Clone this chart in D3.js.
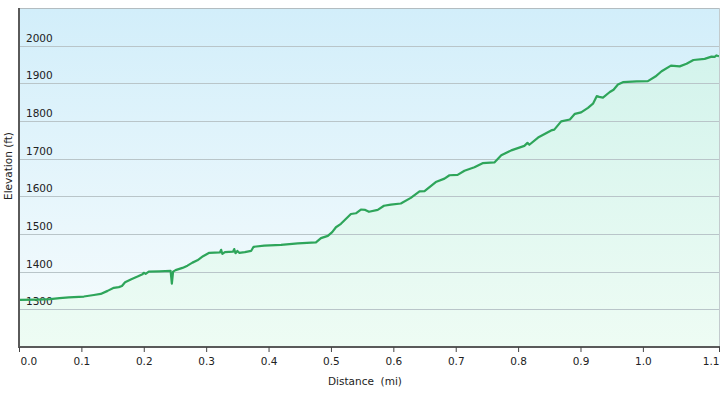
<!DOCTYPE html>
<html>
<head>
<meta charset="UTF-8">
<title>Elevation profile</title>
<script src="https://d3js.org/d3.v7.min.js"></script>
<style>
  body { margin: 0; background: #fff; }
  text { font-family: "DejaVu Sans", Verdana, sans-serif; fill: #222; }
</style>
</head>
<body>
<svg id="chart" width="724" height="395"></svg>
<script>
// distance (mi) / elevation (ft) read from the profile
const distances = [
  0.000, 0.030, 0.050, 0.065, 0.080, 0.104, 0.120, 0.131, 0.142, 0.152,
  0.160, 0.165, 0.170, 0.180, 0.190, 0.198, 0.200, 0.203, 0.208, 0.225,
  0.243, 0.245, 0.247, 0.251, 0.262, 0.270, 0.278, 0.286, 0.295, 0.305,
  0.322, 0.324, 0.326, 0.330, 0.343, 0.345, 0.347, 0.350, 0.353, 0.362,
  0.372, 0.376, 0.393, 0.420, 0.447, 0.476, 0.484, 0.495, 0.502, 0.508,
  0.516, 0.532, 0.540, 0.548, 0.555, 0.561, 0.575, 0.585, 0.596, 0.612,
  0.628, 0.642, 0.650, 0.668, 0.682, 0.690, 0.703, 0.714, 0.730, 0.743,
  0.762, 0.773, 0.789, 0.810, 0.815, 0.818, 0.832, 0.853, 0.858, 0.869,
  0.883, 0.891, 0.901, 0.912, 0.920, 0.926, 0.930, 0.936, 0.947, 0.953,
  0.960, 0.968, 0.990, 1.008, 1.020, 1.030, 1.045, 1.059, 1.070, 1.081,
  1.099, 1.110, 1.115, 1.118, 1.122
];
const elevations = [
  1325, 1326, 1327, 1330, 1332, 1334, 1338, 1341, 1349, 1357,
  1359, 1362, 1372, 1380, 1387, 1393, 1397, 1394, 1400, 1401,
  1402, 1368, 1400, 1404, 1410, 1416, 1424, 1430, 1441, 1450,
  1451, 1458, 1447, 1452, 1453, 1460, 1449, 1455, 1450, 1452,
  1455, 1466, 1469, 1471, 1475, 1478, 1489, 1495, 1505, 1518,
  1527, 1553, 1555, 1565, 1564, 1559, 1564, 1575, 1578, 1581,
  1596, 1613, 1614, 1638, 1647, 1656, 1657, 1668, 1677, 1688,
  1690, 1709, 1722, 1734, 1742, 1737, 1756, 1775, 1777, 1799,
  1804, 1819, 1823, 1835, 1846, 1866, 1864, 1862, 1877, 1883,
  1897, 1903, 1905, 1906, 1918, 1932, 1947, 1945, 1952, 1962,
  1965, 1971, 1970, 1974, 1972
];

const yTicks = [1300, 1400, 1500, 1600, 1700, 1800, 1900, 2000];
const xTicks = [0, 0.1, 0.2, 0.3, 0.4, 0.5, 0.6, 0.7, 0.8, 0.9, 1.0, 1.122];
const xTickLabels = ["0.0", "0.1", "0.2", "0.3", "0.4", "0.5", "0.6", "0.7", "0.8", "0.9", "1.0", "1.1"];

const svg = d3.select("#chart");
const pLeft = 19, pRight = 719, pTop = 8, pBottom = 347;

const x = d3.scaleLinear().domain([0, 1.122]).range([pLeft, pRight]);
const y = d3.scaleLinear().domain([1200, 2100]).range([pBottom, pTop]);

const data = distances.map((d, i) => ({ d: d, e: elevations[i] }));

// gradients
const defs = svg.append("defs");
const bg = defs.append("linearGradient").attr("id", "bg")
  .attr("x1", 0).attr("y1", 0).attr("x2", 0).attr("y2", 1);
bg.append("stop").attr("offset", "0%").attr("stop-color", "#d2eefa");
bg.append("stop").attr("offset", "100%").attr("stop-color", "#f7fcfd");

const ar = defs.append("linearGradient").attr("id", "ar")
  .attr("gradientUnits", "userSpaceOnUse")
  .attr("x1", 0).attr("y1", pTop).attr("x2", 0).attr("y2", pBottom);
ar.append("stop").attr("offset", "0%").attr("stop-color", "#cff2eb");
ar.append("stop").attr("offset", "100%").attr("stop-color", "#eefcf4");

// plot background
svg.append("rect")
  .attr("x", pLeft).attr("y", pTop)
  .attr("width", pRight - pLeft).attr("height", pBottom - pTop)
  .attr("fill", "url(#bg)");

// area under the profile
svg.append("path")
  .datum(data)
  .attr("fill", "url(#ar)")
  .attr("d", d3.area().x(p => x(p.d)).y0(pBottom).y1(p => y(p.e)));

// grid lines
svg.append("g").selectAll("line")
  .data(yTicks)
  .join("line")
  .attr("x1", pLeft).attr("x2", pRight)
  .attr("y1", d => Math.round(y(d)) + 0.5).attr("y2", d => Math.round(y(d)) + 0.5)
  .attr("stroke", "#b9c5c9").attr("stroke-width", 1);

// y labels sit above their grid lines
svg.append("g").selectAll("text")
  .data(yTicks)
  .join("text")
  .attr("x", 26)
  .attr("y", d => Math.round(y(d)) - 4)
  .attr("font-size", "10.5px")
  .text(d => d);

// profile line
svg.append("path")
  .datum(data)
  .attr("fill", "none")
  .attr("stroke", "#2ea55a")
  .attr("stroke-width", 2.2)
  .attr("stroke-linejoin", "round")
  .attr("d", d3.line().x(p => x(p.d)).y(p => y(p.e)));

// frame: top and right light, left and bottom dark
svg.append("line").attr("x1", pLeft).attr("x2", pRight + 0.5).attr("y1", pTop + 0.5).attr("y2", pTop + 0.5)
  .attr("stroke", "#b3bcc0");
svg.append("line").attr("x1", pRight + 0.5).attr("x2", pRight + 0.5).attr("y1", pTop).attr("y2", pBottom)
  .attr("stroke", "#c3cbce");
svg.append("line").attr("x1", pLeft).attr("x2", pLeft).attr("y1", pTop).attr("y2", pBottom + 1)
  .attr("stroke", "#5a5a5a").attr("stroke-width", 2);

// x axis
const xAxis = d3.axisBottom(x)
  .tickValues(xTicks)
  .tickFormat((d, i) => xTickLabels[i])
  .tickSize(5)
  .tickPadding(6);
const gx = svg.append("g")
  .attr("transform", `translate(0,${pBottom})`)
  .call(xAxis);
gx.select(".domain").attr("stroke", "#5a5a5a").attr("stroke-width", 2)
  .attr("d", `M${pLeft - 1},0H${pRight + 1}`);
gx.selectAll(".tick line").attr("stroke", "#444");
gx.selectAll(".tick text")
  .attr("font-size", "10.5px")
  .attr("fill", "#222")
  .attr("font-family", "DejaVu Sans, Verdana, sans-serif");
// first and last labels are kept inside the plot width
gx.selectAll(".tick").filter((d, i) => i === 0)
  .select("text").attr("text-anchor", "start").attr("x", 1);
gx.selectAll(".tick").filter((d, i) => i === xTicks.length - 1)
  .select("text").attr("text-anchor", "end");

// axis titles
svg.append("text")
  .attr("x", 365).attr("y", 385)
  .attr("text-anchor", "middle")
  .attr("font-size", "10.5px")
  .attr("xml:space", "preserve")
  .text("Distance  (mi)");

svg.append("text")
  .attr("transform", "translate(12,166) rotate(-90)")
  .attr("text-anchor", "middle")
  .attr("font-size", "10.5px")
  .text("Elevation (ft)");
</script>
</body>
</html>
